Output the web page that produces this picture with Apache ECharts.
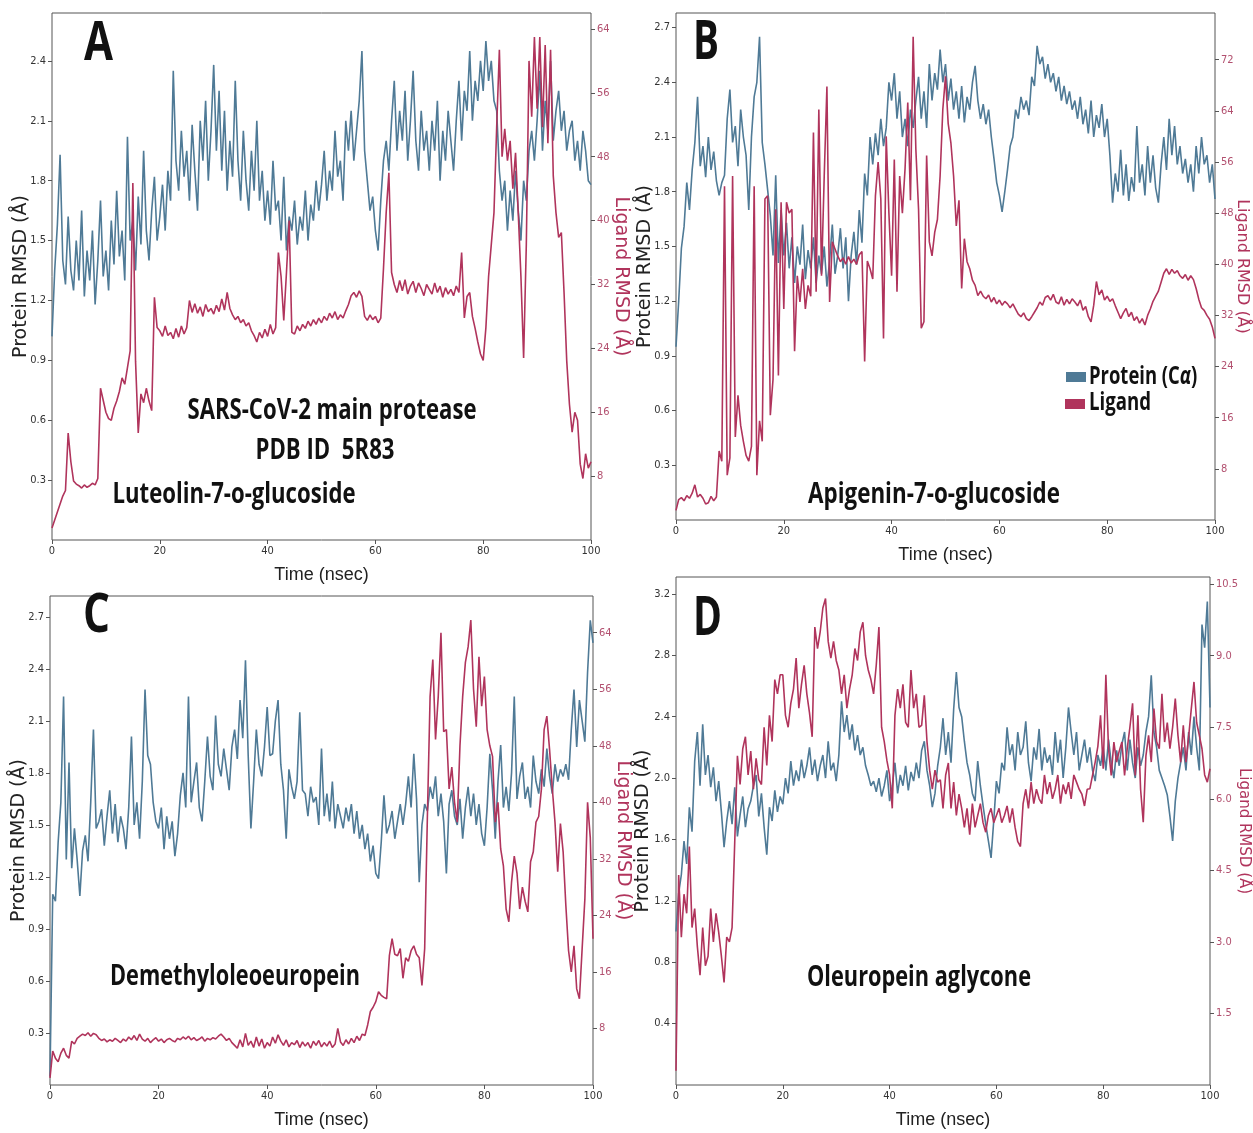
<!DOCTYPE html>
<html>
<head>
<meta charset="utf-8">
<script src="https://cdn.jsdelivr.net/npm/echarts@6/dist/echarts.min.js"></script>
<style>
  html, body { margin: 0; padding: 0; background: #fff; }
  #chart { width: 1253px; height: 1133px; }
</style>
</head>
<body>
<div id="chart"></div>
<script>
// sampling step of the trajectories (ns)
var TIME_STEP = 0.5;

// ---- A : Luteolin-7-o-glucoside ----
var proteinA = [
  1.02,1.35,1.58,1.93,1.4,1.28,1.62,1.35,1.25,1.5,
  1.3,1.65,1.22,1.45,1.3,1.55,1.18,1.4,1.7,1.32,
  1.45,1.25,1.6,1.38,1.75,1.42,1.55,1.3,2.02,1.5,
  1.6,1.35,1.72,1.48,1.95,1.55,1.4,1.65,1.82,1.5,
  1.62,1.78,1.55,1.85,1.7,2.35,1.9,1.75,2.05,1.82,
  1.95,1.7,2.08,1.85,1.65,2.1,1.9,2.2,1.8,2.05,
  2.38,1.95,2.25,1.85,2.15,1.75,2.0,1.82,2.3,1.9,
  1.7,2.05,1.8,1.65,1.95,1.75,2.1,1.7,1.85,1.6,
  1.75,1.58,1.9,1.65,1.7,1.5,1.82,1.45,1.62,1.55,
  1.7,1.48,1.62,1.55,1.75,1.5,1.68,1.6,1.8,1.65,
  1.78,1.95,1.7,1.85,1.75,2.05,1.82,1.9,1.7,2.1,
  1.95,2.15,1.9,2.05,2.2,2.45,1.95,1.8,1.65,1.72,
  1.55,1.45,1.7,1.9,2.0,1.85,2.1,2.3,1.95,2.15,
  2.0,2.25,1.9,2.1,2.35,2.0,1.85,2.15,1.95,2.05,
  1.85,2.1,1.95,2.2,1.8,2.05,1.9,2.15,2.0,1.85,
  2.1,2.3,2.0,2.25,2.15,2.45,2.1,2.3,2.2,2.4,
  2.25,2.5,2.3,2.4,2.2,2.15,1.85,1.7,1.8,1.55,
  1.75,1.6,1.85,1.65,1.5,1.8,1.7,1.95,2.05,1.9,
  2.1,2.35,1.95,2.2,2.05,2.4,2.0,2.15,2.25,2.05,
  2.15,1.95,2.05,2.1,1.9,2.0,1.85,2.05,1.95,1.8,
  1.78
];
var ligandA = [
  1.5,2.5,3.5,4.5,5.5,6.2,13.4,9.8,7.4,7.0,
  6.8,6.5,6.9,6.6,6.8,7.1,6.9,7.7,19.0,17.5,
  16.0,15.2,15.0,16.5,17.4,18.6,20.3,19.5,21.6,23.7,
  44.7,22.4,13.4,18.3,17.2,19.0,17.4,16.2,30.4,26.6,
  26.2,25.5,26.8,25.6,26.0,25.2,26.5,25.4,26.8,25.8,
  26.6,30.0,28.5,29.6,28.4,29.2,28.0,29.5,28.6,29.0,
  28.3,29.4,28.6,30.2,28.8,31.0,29.0,28.2,27.6,28.0,
  27.2,27.6,26.8,27.2,26.2,25.6,24.8,26.0,25.3,26.4,
  25.5,27.0,25.8,26.6,36.0,33.0,27.5,33.5,40.0,26.0,
  25.8,26.8,26.2,27.0,26.5,27.4,26.8,27.6,27.0,27.8,
  27.2,28.0,27.5,28.4,27.8,28.6,27.6,28.2,27.8,28.7,
  29.5,30.6,31.0,30.4,31.2,30.5,28.0,27.5,28.2,27.6,
  28.0,27.2,27.8,34.0,41.0,46.0,33.5,32.0,31.0,32.5,
  31.2,32.6,30.8,31.8,32.4,31.0,32.2,31.5,30.6,32.0,
  31.4,30.8,32.2,31.0,31.8,30.4,31.6,30.8,31.4,30.6,
  31.8,31.0,36.0,27.8,30.5,31.0,28.0,26.5,24.8,23.3,
  22.5,26.6,33.0,37.0,41.0,51.7,61.4,48.0,51.5,47.5,
  50.0,44.0,48.5,41.0,33.0,22.8,37.0,60.0,53.0,63.0,
  54.0,63.0,51.7,62.0,49.7,61.4,45.6,41.0,37.9,38.5,
  31.0,22.4,17.0,13.5,16.0,15.0,9.5,7.7,10.8,9.0,
  9.8
];

// ---- B : Apigenin-7-o-glucoside ----
var proteinB = [
  0.95,1.2,1.49,1.61,1.85,1.7,1.92,2.07,2.32,1.94,
  2.05,1.88,2.1,1.92,2.02,1.86,1.78,1.85,1.89,2.2,
  2.36,2.07,2.16,1.94,2.25,2.1,2.0,1.7,2.1,2.32,
  2.4,2.65,2.07,1.95,1.81,1.67,1.45,1.89,1.41,1.7,
  1.45,1.63,1.38,1.55,1.3,1.5,1.4,1.62,1.32,1.48,
  1.38,1.55,1.3,1.45,1.35,1.5,1.28,1.42,1.62,1.35,
  1.45,1.6,1.38,1.55,1.2,1.45,1.58,1.4,1.7,1.52,
  1.9,1.78,2.1,1.95,2.12,2.0,2.2,2.05,2.15,2.4,
  2.3,2.45,2.2,2.35,2.1,2.2,2.05,2.25,2.15,2.3,
  2.43,2.2,2.35,2.15,2.5,2.3,2.45,2.36,2.58,2.4,
  2.5,2.3,2.42,2.25,2.35,2.2,2.38,2.18,2.32,2.25,
  2.4,2.49,2.3,2.2,2.28,2.17,2.25,2.1,1.98,1.85,
  1.78,1.69,1.8,1.92,2.05,2.1,2.25,2.2,2.32,2.25,
  2.3,2.22,2.43,2.38,2.6,2.5,2.54,2.42,2.5,2.4,
  2.45,2.35,2.43,2.3,2.38,2.28,2.35,2.25,2.3,2.2,
  2.32,2.17,2.25,2.12,2.3,2.1,2.22,2.15,2.28,2.1,
  2.2,2.0,1.74,1.9,1.8,2.03,1.78,1.95,1.75,1.88,
  1.8,2.16,1.85,1.95,1.78,2.05,1.85,2.0,1.82,1.74,
  1.95,2.1,1.92,2.2,2.0,2.16,1.95,2.05,1.9,1.98,
  1.85,1.95,1.8,2.05,1.9,2.1,1.95,2.0,1.85,1.95,
  1.76
];
var ligandB = [
  1.5,3.2,3.5,3.0,3.8,3.4,4.2,5.5,3.6,4.0,
  3.4,2.5,2.7,3.7,3.0,3.6,10.8,9.2,52.2,7.0,
  9.7,53.8,13.0,19.5,14.8,12.3,10.1,9.2,11.5,52.2,
  7.0,15.5,12.3,50.2,50.7,16.4,22.0,48.6,22.6,49.7,
  33.0,49.7,48.0,48.6,26.4,38.2,34.1,39.3,33.0,36.7,
  35.0,60.6,35.7,64.2,38.2,53.8,67.8,34.1,43.5,42.4,
  41.3,40.4,41.0,40.0,41.2,40.2,40.8,40.0,41.5,42.0,
  24.8,40.5,39.3,37.7,50.7,56.0,50.2,28.4,60.0,48.0,
  38.2,56.4,35.7,53.8,48.0,55.0,65.3,50.0,75.6,58.0,
  48.6,30.0,31.0,57.0,43.5,41.3,45.0,47.0,53.8,64.2,
  69.4,62.0,59.0,53.8,46.0,50.0,36.2,44.0,40.4,39.3,
  37.5,36.7,35.1,35.8,35.0,34.6,35.2,34.1,34.8,33.8,
  34.4,33.6,34.2,33.8,33.2,33.8,33.0,32.2,31.8,32.4,
  31.5,31.2,31.8,32.5,33.2,34.1,33.6,34.8,35.1,34.4,
  35.3,34.1,33.8,34.9,33.6,34.5,33.8,34.6,34.1,33.5,
  34.4,32.8,33.4,31.8,31.0,33.6,37.3,35.2,36.0,34.4,
  35.0,34.2,34.6,33.5,32.5,31.5,32.4,33.1,31.8,32.5,
  31.2,31.8,30.8,31.5,30.5,32.0,33.0,34.2,35.0,35.8,
  37.2,38.6,39.3,38.4,39.2,38.6,39.0,38.2,37.8,38.4,
  37.5,38.2,37.6,36.2,34.5,33.2,32.8,32.0,31.4,30.2,
  28.4
];

// ---- C : Demethyloleoeuropein ----
var proteinC = [
  0.05,1.1,1.06,1.4,1.63,2.24,1.3,1.86,1.25,1.48,
  1.3,1.09,1.35,1.44,1.29,1.63,2.05,1.48,1.52,1.59,
  1.38,1.55,1.7,1.45,1.62,1.4,1.55,1.48,1.36,1.6,
  2.01,1.5,1.63,1.42,1.75,2.28,1.9,1.85,1.63,1.52,
  1.48,1.6,1.36,1.55,1.42,1.52,1.32,1.45,1.67,1.8,
  1.6,2.24,1.63,1.75,1.86,1.6,1.52,1.75,2.01,1.78,
  1.7,2.13,1.85,1.78,1.94,1.82,1.7,1.95,2.05,1.88,
  2.22,2.0,2.45,1.9,1.48,1.75,2.05,1.85,1.78,1.95,
  2.18,1.9,1.91,2.1,2.22,1.85,1.7,1.42,1.82,1.72,
  1.65,1.75,2.15,1.7,1.68,1.55,1.72,1.63,1.66,1.5,
  1.94,1.55,1.68,1.52,1.75,1.48,1.62,1.55,1.48,1.6,
  1.52,1.62,1.45,1.58,1.42,1.5,1.36,1.45,1.29,1.38,
  1.22,1.19,1.4,1.67,1.45,1.5,1.58,1.42,1.52,1.62,
  1.5,1.62,1.78,1.6,1.91,1.65,1.17,1.5,1.62,1.58,
  1.72,1.65,1.78,1.55,1.68,1.52,1.22,1.62,1.7,1.55,
  1.5,1.65,1.42,1.6,1.72,1.55,1.68,1.5,1.62,1.45,
  1.38,1.6,1.91,1.7,1.42,1.75,1.96,1.6,1.72,1.58,
  1.8,2.24,1.65,1.78,1.86,1.65,1.72,1.6,1.9,1.75,
  1.68,1.82,1.72,1.94,1.78,1.68,1.85,1.75,1.82,1.78,
  1.85,1.76,2.05,2.28,1.95,2.22,2.1,1.98,2.38,2.68,
  2.55
];
var ligandC = [
  1.0,4.8,3.8,3.3,4.5,5.2,4.2,3.8,6.2,5.8,
  6.6,6.9,7.2,7.0,7.4,6.9,7.3,7.1,6.6,6.3,
  6.5,6.1,6.4,6.2,6.6,6.3,6.0,6.5,6.2,6.8,
  6.4,7.0,6.3,7.2,6.5,6.2,6.6,6.0,6.4,6.7,
  6.2,6.5,6.0,6.4,6.6,6.3,6.1,6.6,6.4,6.8,
  6.5,6.9,6.4,6.7,6.3,6.5,6.8,6.2,6.6,6.4,
  6.7,6.5,6.9,7.2,6.8,6.3,6.6,6.0,5.6,5.2,
  6.4,5.4,7.3,5.6,6.2,5.3,6.8,5.5,6.5,5.2,
  6.0,5.5,6.8,5.9,7.1,6.2,5.6,6.4,5.4,6.0,
  5.7,6.3,5.3,6.1,5.5,6.0,5.2,6.2,5.6,6.3,
  5.4,6.0,5.5,6.2,5.3,5.8,8.0,6.1,5.6,6.4,
  5.8,6.6,6.0,6.9,6.3,7.2,7.0,8.5,10.4,11.0,
  11.8,13.2,12.7,12.4,12.2,18.3,20.7,18.5,18.3,19.3,
  15.1,18.0,17.5,19.0,19.7,18.5,18.0,14.1,19.3,38.0,
  55.0,60.2,48.9,55.0,64.0,50.0,50.3,41.9,45.0,40.0,
  37.2,48.0,55.0,59.8,62.0,65.8,56.0,50.7,60.6,53.6,
  57.8,50.3,48.0,46.5,37.2,40.0,33.4,31.0,24.9,23.1,
  28.7,32.4,30.0,24.9,28.0,26.0,24.5,31.6,33.0,37.2,
  38.0,41.9,50.3,52.2,47.5,42.0,37.2,30.2,37.0,33.0,
  25.4,19.0,16.0,19.7,13.6,12.2,19.3,26.3,40.0,35.0,
  20.7
];

// ---- D : Oleuropein aglycone ----
var proteinD = [
  1.0,1.25,1.37,1.59,1.44,1.81,1.65,2.11,2.3,1.95,
  2.35,2.02,2.15,1.94,2.07,1.85,1.98,1.78,1.55,1.72,
  1.85,1.7,1.94,1.62,1.76,1.88,1.68,1.8,1.85,1.95,
  2.02,1.75,1.9,1.68,1.5,1.81,1.72,1.92,1.78,1.88,
  1.83,2.0,1.9,2.11,1.95,2.05,1.98,2.12,2.0,2.08,
  2.2,2.02,2.12,1.98,2.08,2.15,2.0,2.24,2.05,2.1,
  1.98,2.15,2.5,2.3,2.41,2.25,2.35,2.18,2.28,2.15,
  2.2,2.08,2.02,1.95,1.98,1.91,2.0,1.88,1.95,2.05,
  1.85,1.95,2.1,1.9,2.02,1.95,2.08,1.92,2.04,1.98,
  2.1,2.0,2.18,2.24,2.05,1.95,1.81,1.9,2.08,2.2,
  2.39,2.15,2.3,2.1,2.45,2.69,2.46,2.4,2.24,2.1,
  2.02,1.9,1.85,2.11,1.95,1.82,1.7,1.59,1.48,1.72,
  1.98,1.9,2.1,2.05,2.33,2.15,2.22,2.05,2.3,2.15,
  2.2,2.37,2.1,1.98,2.2,2.12,2.32,2.05,2.2,2.1,
  2.15,2.02,2.3,2.1,2.25,2.0,2.2,2.46,2.3,2.15,
  2.3,2.05,2.15,2.25,2.1,2.2,2.05,1.98,2.15,2.08,
  2.2,2.05,2.25,2.1,2.0,2.18,2.08,2.22,2.3,2.05,
  2.25,2.1,2.0,2.2,2.08,2.15,2.3,2.4,2.67,2.3,
  2.2,2.05,2.0,1.95,1.89,1.75,1.59,1.85,2.0,2.1,
  2.2,2.05,2.3,2.15,2.4,2.2,2.05,3.0,2.85,3.15,
  2.46
];
var ligandD = [
  0.3,4.4,3.1,4.0,3.6,5.0,3.3,3.7,2.9,2.3,
  3.3,2.5,2.7,3.7,3.0,3.6,3.2,2.7,2.15,3.1,
  3.0,3.3,5.1,6.9,6.3,7.05,7.3,6.5,7.0,6.2,
  6.85,6.4,6.3,7.5,6.7,7.75,7.2,8.5,8.2,8.6,
  8.6,7.75,7.5,8.0,8.3,8.95,7.9,8.4,8.8,8.2,
  7.8,7.3,9.6,9.15,9.5,10.0,10.2,9.3,8.95,9.3,
  8.9,8.7,8.2,8.6,7.9,8.3,8.6,9.15,8.9,9.5,
  9.7,9.0,8.7,8.5,8.2,8.8,9.6,7.5,7.2,6.8,
  6.5,5.8,7.75,8.3,7.9,8.4,7.6,7.5,8.7,7.9,
  8.2,7.5,7.54,8.17,7.2,6.6,6.2,6.6,6.35,6.4,
  5.8,6.5,6.75,5.8,6.35,5.65,6.1,5.8,5.4,5.8,
  5.25,5.9,5.4,5.65,5.9,5.5,5.3,5.65,5.8,5.5,
  5.65,5.8,5.5,5.65,5.85,5.5,5.8,5.4,5.1,5.0,
  5.9,6.2,5.8,6.35,5.9,6.2,6.0,5.9,6.5,6.1,
  6.35,6.0,6.2,6.5,5.9,6.3,6.1,6.35,6.0,6.5,
  6.35,6.2,6.1,5.85,6.2,6.21,6.49,6.77,7.1,7.75,
  6.63,8.6,7.05,6.49,7.19,6.77,7.0,7.19,6.49,7.05,
  7.5,8.0,6.49,7.75,6.2,5.51,6.9,7.33,6.77,7.89,
  7.2,7.05,8.2,7.19,7.6,7.05,7.5,8.1,7.33,6.77,
  7.54,6.77,7.3,7.89,8.45,7.6,7.33,7.05,6.5,6.35,
  6.63
];

var PROTEIN_NAME = 'Protein (C\u03b1)';
var LIGAND_NAME = 'Ligand';

var BLUE = '#4f7a96';
var RED = '#b0345c';
var RED_TEXT = '#b2506f';
var TICK_FONT = "'DejaVu Sans Condensed', 'DejaVu Sans', sans-serif";
var BOLD_FONT = "'Open Sans', 'Noto Sans', sans-serif";

var panels = [
  { protein: proteinA, ligand: ligandA, grid: { left: 52, top: 13, width: 539, height: 527 },
    pMax: 2.64, pInt: 0.3, lMax: 66, lInt: 8, pGap: 21, lGap: 20, lFont: 19, xGap: 26 },
  { protein: proteinB, ligand: ligandB, grid: { left: 676, top: 13, width: 539, height: 507 },
    pMax: 2.78, pInt: 0.3, lMax: 79.3, lInt: 8, pGap: 21, lGap: 19, lFont: 16, xGap: 26 },
  { protein: proteinC, ligand: ligandC, grid: { left: 50, top: 596, width: 543, height: 489 },
    pMax: 2.82, pInt: 0.3, lMax: 69.2, lInt: 8, pGap: 21, lGap: 20, lFont: 19, xGap: 26 },
  { protein: proteinD, ligand: ligandD, grid: { left: 676, top: 577, width: 534, height: 508 },
    pMax: 3.31, pInt: 0.4, lMax: 10.65, lInt: 1.5, pGap: 23, lGap: 26, lFont: 15, xGap: 26 }
];

function pairs(values) {
  return values.map(function (v, i) { return [i * TIME_STEP, v]; });
}

var grids = [], xAxes = [], yAxes = [], series = [];
panels.forEach(function (p, g) {
  grids.push(Object.assign({ show: true, borderColor: '#555', borderWidth: 1, backgroundColor: '#fff',
    containLabel: false, outerBoundsMode: 'none' }, p.grid));
  xAxes.push({
    gridIndex: g, type: 'value', min: 0, max: 100, interval: 20,
    name: 'Time (nsec)', nameLocation: 'middle', nameGap: p.xGap, nameMoveOverlap: false,
    nameTextStyle: { fontFamily: "'Liberation Sans', sans-serif", fontSize: 18, color: '#222' },
    axisLine: { show: false },
    axisTick: { show: true, length: 4, lineStyle: { color: '#555' } },
    axisLabel: { fontFamily: TICK_FONT, fontSize: 11, color: '#333', margin: 6 },
    splitLine: { show: false }
  });
  yAxes.push({
    gridIndex: g, type: 'value', position: 'left', min: 0, max: p.pMax, interval: p.pInt,
    name: 'Protein RMSD (\u00c5)', nameLocation: 'middle', nameGap: p.pGap, nameRotate: 90,
    nameMoveOverlap: false,
    nameTextStyle: { fontFamily: 'DejaVu Sans', fontSize: 19, color: '#222' },
    axisLine: { show: false },
    axisTick: { show: true, length: 4, lineStyle: { color: '#555' } },
    axisLabel: { fontFamily: TICK_FONT, fontSize: 11, color: '#333', margin: 6,
      showMinLabel: false, showMaxLabel: false,
      formatter: function (v) { return v.toFixed(1); } },
    splitLine: { show: false }
  });
  yAxes.push({
    gridIndex: g, type: 'value', position: 'right', min: 0, max: p.lMax, interval: p.lInt,
    name: 'Ligand RMSD (\u00c5)', nameLocation: 'middle', nameGap: p.lGap, nameRotate: -90,
    nameMoveOverlap: false,
    nameTextStyle: { fontFamily: 'DejaVu Sans', fontSize: p.lFont, color: RED },
    axisLine: { show: false },
    axisTick: { show: true, length: 4, lineStyle: { color: '#555' } },
    axisLabel: { fontFamily: TICK_FONT, fontSize: 11, color: RED_TEXT, margin: 6,
      showMinLabel: false, showMaxLabel: false,
      formatter: function (v) { return p.lInt < 2 ? v.toFixed(1) : String(v); } },
    splitLine: { show: false }
  });
  series.push({
    name: PROTEIN_NAME, type: 'line', xAxisIndex: g, yAxisIndex: 2 * g,
    data: pairs(p.protein), showSymbol: false, symbol: 'none',
    lineStyle: { color: BLUE, width: 1.6 }, itemStyle: { color: BLUE }
  });
  series.push({
    name: LIGAND_NAME, type: 'line', xAxisIndex: g, yAxisIndex: 2 * g + 1,
    data: pairs(p.ligand), showSymbol: false, symbol: 'none',
    lineStyle: { color: RED, width: 1.6 }, itemStyle: { color: RED }
  });
});

// condensed bold captions: measure then squeeze to the width seen in the figure
var measureCtx = document.createElement('canvas').getContext('2d');
function caption(text, x, y, size, width, align, rich) {
  measureCtx.font = 'bold ' + size + 'px ' + BOLD_FONT;
  var w = measureCtx.measureText(text).width;
  var style = { text: text, fontFamily: BOLD_FONT, fontWeight: 'bold', fontSize: size,
    fill: '#111', textAlign: align || 'center', textVerticalAlign: 'middle' };
  if (rich) {
    style.text = rich.text;
    style.rich = rich.styles;
  }
  return { type: 'text', x: x, y: y, z: 100, scaleX: width / w, style: style };
}

var legendRich = {
  text: '{n|Protein (C}{i|\u03b1}{n|)}',
  styles: {
    n: { fontFamily: BOLD_FONT, fontWeight: 'bold', fontSize: 25, fill: '#111' },
    i: { fontFamily: BOLD_FONT, fontWeight: 'bold', fontStyle: 'italic', fontSize: 25, fill: '#111' }
  }
};

var chart = echarts.init(document.getElementById('chart'));
chart.setOption({
  animation: false,
  backgroundColor: '#fff',
  grid: grids,
  xAxis: xAxes,
  yAxis: yAxes,
  series: series,
  graphic: [
    caption('A', 84, 45, 54, 29, 'left'),
    caption('B', 693, 44, 54, 26, 'left'),
    caption('C', 83, 617, 54, 27, 'left'),
    caption('D', 693, 620, 54, 29, 'left'),
    caption('SARS-CoV-2 main protease', 332, 411, 29, 289),
    caption('PDB ID  5R83', 325, 451, 29, 139),
    caption('Luteolin-7-o-glucoside', 234, 495, 29, 243),
    caption('Apigenin-7-o-glucoside', 934, 495, 29, 252),
    caption('Demethyloleoeuropein', 235, 977, 29, 250),
    caption('Oleuropein aglycone', 919, 978, 29, 224),
    { type: 'rect', z: 100, shape: { x: 1066, y: 372, width: 20, height: 10 }, style: { fill: BLUE } },
    { type: 'rect', z: 100, shape: { x: 1065, y: 399, width: 20, height: 10 }, style: { fill: RED } },
    caption(PROTEIN_NAME, 1089, 377, 25, 109, 'left', legendRich),
    caption(LIGAND_NAME, 1089, 403, 25, 62, 'left')
  ]
});
</script>
</body>
</html>
